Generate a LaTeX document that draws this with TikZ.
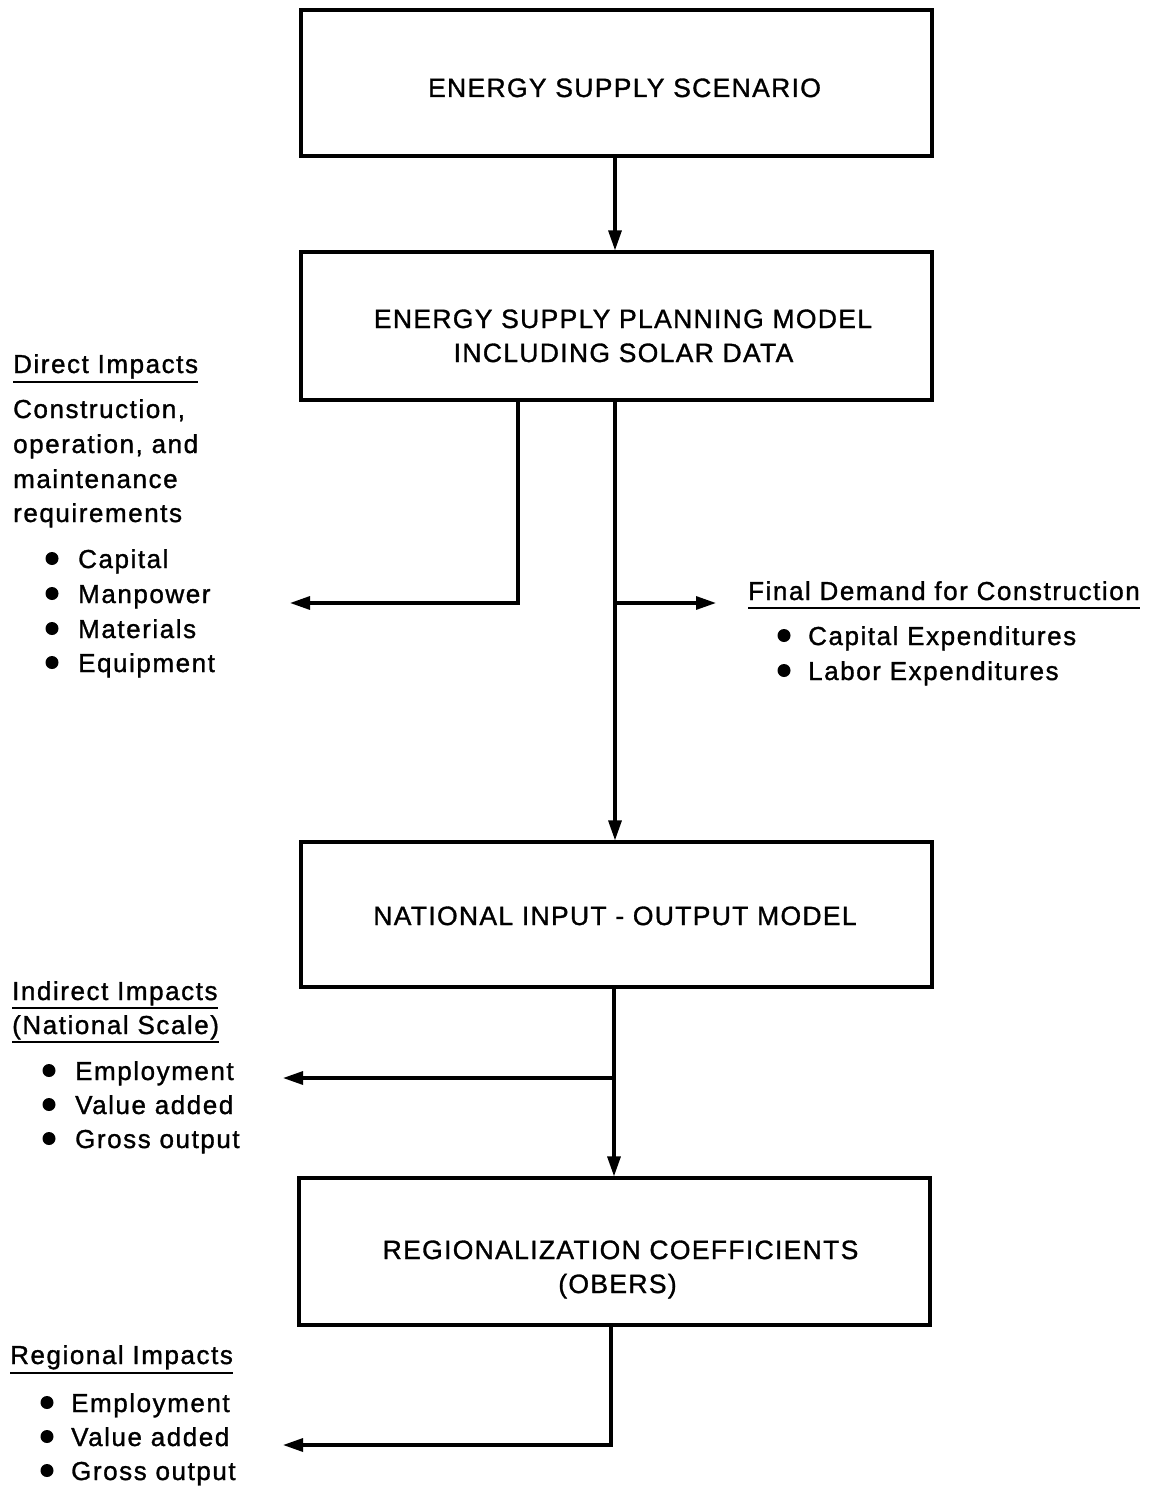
\documentclass[tikz,border=0pt]{standalone}
\usepackage{fontspec}
\setmainfont{Liberation Sans}
\newfontfamily\bodyfont[LetterSpace=6,FakeBold=1.2]{Liberation Sans}
\newfontfamily\boxfont[LetterSpace=5,FakeBold=1.2]{Liberation Sans}
\usetikzlibrary{arrows.meta}
\begin{document}
\begin{tikzpicture}[x=1pt,y=-1pt,
  boxnode/.style={draw, rectangle, line width=3.2pt, inner sep=0pt},
  conn/.style={line width=3.2pt},
  arr/.style={conn, -{Triangle[length=20pt,width=13pt]}},
  txt/.style={anchor=base west, inner sep=0pt, font=\bodyfont\fontsize{26}{30}\selectfont},
  bxt/.style={anchor=base, inner sep=0pt, font=\boxfont\fontsize{26.5}{30}\selectfont},
  uline/.style={line width=2.4pt},
  bdot/.style={fill=black}]
\useasboundingbox (0,0) rectangle (1156,1487);

% boxes
\node[boxnode, minimum width=631pt, minimum height=146pt] (b1) at (616.5,83) {};
\node[boxnode, minimum width=631pt, minimum height=148pt] (b2) at (616.5,326) {};
\node[boxnode, minimum width=631pt, minimum height=145pt] (b3) at (616.5,914.5) {};
\node[boxnode, minimum width=631pt, minimum height=147pt] (b4) at (614.5,1251.5) {};

\node[bxt] (t1) at (624.5,97) {ENERGY SUPPLY SCENARIO};
\node[bxt] (t2a) at (623,328) {ENERGY SUPPLY PLANNING MODEL};
\node[bxt] (t2b) at (623.5,362) {INCLUDING SOLAR DATA};
\node[bxt] (t3) at (615,925) {NATIONAL INPUT - OUTPUT MODEL};
\node[bxt] (t4a) at (620.5,1259) {REGIONALIZATION COEFFICIENTS};
\node[bxt] (t4b) at (617.5,1293) {(OBERS)};

% connector coordinates
\coordinate (m1) at (615,0);
\coordinate (dl) at (518,603);
\coordinate (dtip) at (290,603);
\coordinate (rb) at (615,603);
\coordinate (rtip) at (716,603);
\coordinate (m3) at (614,0);
\coordinate (ib) at (614,1078);
\coordinate (itip) at (283,1078);
\coordinate (rc) at (611,1445);
\coordinate (btip) at (283,1445);

\draw[arr] (m1 |- b1.south) -- (m1 |- b2.north);
\draw[arr] (dl |- b2.south) -- (dl) -- (dtip);
\draw[arr] (m1 |- b2.south) -- (m1 |- b3.north);
\draw[arr] (rb) -- (rtip);
\draw[arr] (m3 |- b3.south) -- (m3 |- b4.north);
\draw[arr] (ib) -- (itip);
\draw[arr] (rc |- b4.south) -- (rc) -- (btip);

% direct impacts
\node[txt] (di) at (13,373) {Direct Impacts};
\draw[uline] ([yshift=-9pt]di.base west) -- ([yshift=-9pt]di.base east);
\node[txt] (d1) at (13,418) {Construction,};
\node[txt] (d2) at (13,453) {operation, and};
\node[txt] (d3) at (13,488) {maintenance};
\node[txt] (d4) at (13,522) {requirements};
\node[txt] (c1) at (78,568) {Capital};
\node[txt] (c2) at (78,603) {Manpower};
\node[txt] (c3) at (78,638) {Materials};
\node[txt] (c4) at (78,672) {Equipment};
\fill[bdot] (52,558.5) circle[radius=6.5pt];
\fill[bdot] (52,593.5) circle[radius=6.5pt];
\fill[bdot] (52,628.5) circle[radius=6.5pt];
\fill[bdot] (52,662.5) circle[radius=6.5pt];

% final demand
\node[txt] (fd) at (748,600) {Final Demand for Construction};
\draw[uline] ([yshift=-8pt]fd.base west) -- ([yshift=-8pt]fd.base east);
\node[txt] (f1) at (808,645) {Capital Expenditures};
\node[txt] (f2) at (808,680) {Labor Expenditures};
\fill[bdot] (784,635.5) circle[radius=6.5pt];
\fill[bdot] (784,670.5) circle[radius=6.5pt];

% indirect impacts
\node[txt] (ii) at (12,1000) {Indirect Impacts};
\draw[uline] ([yshift=-8pt]ii.base west) -- ([yshift=-8pt]ii.base east);
\node[txt] (ns) at (12,1034) {(National Scale)};
\draw[uline] ([yshift=-8pt]ns.base west) -- ([yshift=-8pt]ns.base east);
\node[txt] (i1) at (75,1080) {Employment};
\node[txt] (i2) at (75,1114) {Value added};
\node[txt] (i3) at (75,1148) {Gross output};
\fill[bdot] (49,1070.5) circle[radius=6.5pt];
\fill[bdot] (49,1104.5) circle[radius=6.5pt];
\fill[bdot] (49,1138.5) circle[radius=6.5pt];

% regional impacts
\node[txt] (ri) at (10,1364) {Regional Impacts};
\draw[uline] ([yshift=-9pt]ri.base west) -- ([yshift=-9pt]ri.base east);
\node[txt] (r1) at (71,1412) {Employment};
\node[txt] (r2) at (71,1446) {Value added};
\node[txt] (r3) at (71,1480) {Gross output};
\fill[bdot] (47,1402.5) circle[radius=6.5pt];
\fill[bdot] (47,1436.5) circle[radius=6.5pt];
\fill[bdot] (47,1470.5) circle[radius=6.5pt];
\end{tikzpicture}
\end{document}
